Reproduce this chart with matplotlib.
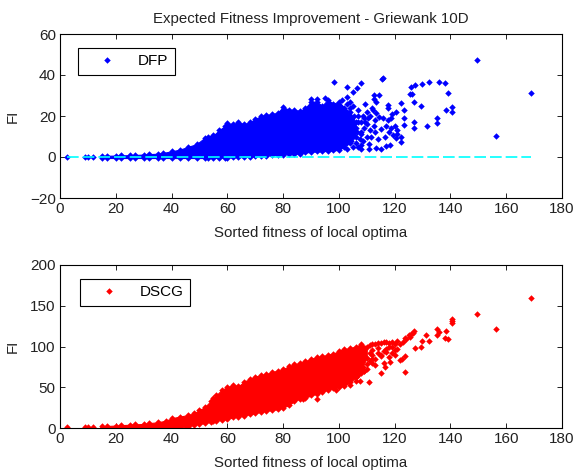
#!/usr/bin/env python
# -*- coding: utf-8 -*-
import matplotlib
matplotlib.use('Agg')
import matplotlib.pyplot as plt

plt.rcParams['font.family'] = ['Liberation Sans', 'DejaVu Sans']

## values
xTicks = [0, 20, 40, 60, 80, 100, 120, 140, 160, 180]
yTicksTop = [-20, 0, 20, 40, 60]
yTicksBot = [0, 50, 100, 150, 200]

# DFP, dense part of the cloud: lower and upper edge per column
dfpBandX = [15, 17, 20, 22, 25, 27, 30, 32, 35, 37, 40, 43, 46, 49, 52, 53, 55, 57, 59, 60, 62, 64, 66, 68, 70, 72, 74, 76, 78, 80, 82, 84, 86, 88, 90, 92, 94, 96, 98, 100, 102, 104, 106]
dfpBandLo = [-0.5, -0.5, -0.5, -0.5, -0.5, -0.5, -0.5, -0.5, -0.5, -0.5, -0.5, -0.5, -0.5, -0.5, -0.5, -0.5, -0.4, -0.4, -0.3, -0.3, -0.2, -0.1, 0, 0.2, 0.3, 0.5, 0.7, 0.9, 1, 1.2, 1.4, 1.5, 1.7, 2.2, 2.5, 2.7, 2.8, 3, 3.2, 3.5, 5, 7, 10]
dfpBandHi = [0.5, 0.6, 0.7, 0.8, 0.9, 1, 1.2, 1.4, 1.6, 2, 2.8, 3.6, 5, 6.3, 9.5, 10, 10.5, 13, 15, 16.5, 16, 17, 16, 17, 18.5, 20, 20.5, 21, 21.5, 24.5, 23, 23, 22.5, 24, 27, 27, 25, 28, 26, 27, 24, 22, 17]

# DFP, single points outside the dense part
dfpX = [2.5, 9, 10, 12, 149.6, 169, 156.2, 140.5, 140.5, 138.5, 139.3, 138, 135.9, 132.2, 129.7, 127.2, 126, 125.4, 126.2,
        126.8, 129.3, 122.2, 123.5, 135, 135, 131.5, 126.9, 126.9, 123.5, 123.5, 115.8, 115.4, 108, 106.6, 104.9, 102.8,
        102.8, 98.4, 95, 92, 90, 117.6, 117.6, 114.3, 112.5, 112.5, 113.4, 116.9, 115, 113.2, 110.8, 110.8, 107.8, 112.1, 113.3,
        114.5, 115.7, 117.6, 118.8, 120.6, 122.2, 122.2, 120.6, 119.4, 118.6, 120, 110, 111, 113, 115, 117, 109, 108.5,
        111.5, 114, 116.5, 118, 119, 121, 110, 112, 109.5, 113, 108, 111, 107, 110, 112.5, 118.5, 121,
        107, 108, 109, 107.5, 106.5, 105, 104, 103, 101,
        103, 105, 104.5, 106, 107, 108, 105.5, 107, 108.5, 106, 104, 102.5, 109.5, 110.5, 108]
dfpY = [0, 0, 0, 0, 47.3, 31, 10.4, 24.2, 21.8, 22.9, 31, 36.1, 36.6, 36.6, 35.4, 35, 34.1, 30.9, 30.9,
        27, 24.7, 26.5, 22.9, 18.9, 16.4, 15.1, 17.2, 14, 18.9, 15.6, 38.5, 38, 36.1, 33.8, 31.8, 34.3,
        29.4, 36.6, 29, 28.5, 28.5, 25.4, 23.8, 30.3, 30.3, 28.2, 27, 5.4, 4.1, 4.6, 4.1, 6.5, 4.1, 22.9, 21.3,
        19.7, 18.9, 18, 18.9, 22.1, 7.5, 9.9, 9.1, 10.7, 14, 15.1, 16, 13, 12, 13.5, 15, 19, 8,
        10, 9, 10, 12, 21, 13, 22, 24, 26, 18, 12, 20, 17, 10, 15, 6, 11,
        23, 17, 14, 9, 12, 25, 27, 26, 28,
        4, 5, 8, 7, 5, 6, 20, 20, 20, 14, 24, 22, 17, 19, 11]

# DSCG, dense part of the cloud
dscBandX = [15, 17, 20, 22, 25, 27, 30, 32, 35, 38, 40, 43, 46, 48, 50, 52, 54, 55, 56, 58, 60, 62, 64, 66, 68, 70, 72, 74, 76, 78, 80, 82, 84, 86, 88, 90, 92, 94, 96, 98, 100, 102, 104, 106, 108, 110]
dscBandLo = [0.5, 0.5, 0.5, 0.5, 0.5, 0.5, 0.5, 0.5, 0.5, 0.5, 0.5, 0.5, 1.5, 4, 5, 6, 7.5, 8, 9, 10, 11, 13, 14, 15, 17, 18, 20, 21, 22, 23, 25, 28, 33, 36, 37, 40, 42, 44, 47, 49, 50, 52, 56, 62, 72, 86]
dscBandHi = [2, 2.5, 3, 3.5, 4, 4.5, 5, 6, 7, 9, 12, 14, 16, 18, 22, 26, 33, 37, 40, 47, 50, 53, 51, 57, 60, 63, 65, 66, 69, 70, 72, 76, 78, 80, 82, 85, 87, 88, 90, 91, 95, 97, 98, 100, 103, 100]

# DSCG, single points
dscX = [2.5, 9, 10, 12, 169, 149.6, 156.2, 140.5, 140.5, 140.5, 138.5, 138, 139.3, 135, 135.9, 135, 131.3, 132.2, 129.7, 129.3,
        127.2, 126.9, 126.4, 125.9, 125.5, 123.7, 123.7, 115, 110.8, 107.4, 123.6, 122.8, 122, 120, 118.3, 116.7, 116, 113,
        121, 119, 122, 117, 115, 112, 109, 125, 124, 123, 118, 106, 104, 99, 97, 92, 87,
        111, 112, 113, 114, 115, 116, 117, 118, 119, 120, 111, 112, 114, 116, 118, 113, 115, 117, 120, 112, 114, 119, 121,
        106, 107, 108, 109, 110, 111, 108.5, 110, 112]
dscY = [1, 1, 1, 1, 159, 139.5, 121, 134, 131.6, 128.8, 119.3, 110.7, 108.6, 121, 118, 114, 113.6, 106.6, 106.6, 99.2,
        97.6, 119, 117, 115, 112, 110.7, 69, 67.4, 56, 57.6, 88, 85, 83, 89, 81, 75, 80, 77,
        107, 100, 103, 93, 88, 85, 70, 114, 109, 106, 87, 62, 53, 47, 52, 36, 35,
        102, 103, 103, 104, 104, 105, 105, 104, 105, 103, 92, 96, 98, 95, 100, 85, 90, 97, 96, 80, 92, 92, 97,
        58, 65, 68, 70, 78, 82, 75, 72, 90]

zeroX = [2.5, 169]
zeroY = [0, 0]


def setup(ax, yTicks, yLim):
    ax.set_xlim(0, 180)
    ax.set_ylim(yLim)
    ax.set_xticks(xTicks)
    ax.set_yticks(yTicks)
    ax.tick_params(direction='in', length=3.5, width=0.7, top=True, right=True,
                   labelsize=11, colors='#222222', pad=3)
    ax.set_xlabel('Sorted fitness of local optima', fontsize=10.8, color='#222222', labelpad=7)
    ax.set_ylabel('FI', fontsize=10.8, color='#222222')
    ax.yaxis.set_label_coords(-0.08, 0.5)
    for s in ax.spines.values():
        s.set_linewidth(0.8)


def cloud(ax, bandX, bandLo, bandHi, ptX, ptY, color, name, anchor):
    ax.fill_between(bandX, bandLo, bandHi, color=color, lw=0.8, zorder=2)
    # edge markers make the outline of the cloud rough like the single points
    ax.plot(bandX, bandLo, 'D', color=color, ms=3.3, mew=0, zorder=2)
    ax.plot(bandX, bandHi, 'D', color=color, ms=3.3, mew=0, zorder=2)
    ax.plot(ptX, ptY, 'D', color=color, ms=3.3, mew=0, zorder=2, label=name)
    leg = ax.legend(loc='upper left', bbox_to_anchor=anchor, fancybox=False, framealpha=1,
                    edgecolor='black', fontsize=11, numpoints=1, handlelength=2.9,
                    handletextpad=0.6, borderpad=0.42, borderaxespad=0)
    leg.get_frame().set_linewidth(0.8)
    leg.set_zorder(5)


fig = plt.figure(figsize=(5.75, 4.70), dpi=100)
H = 470.0
W = 575.0
ax1 = fig.add_axes([60 / W, 1 - 198 / H, 502 / W, 164 / H])
ax2 = fig.add_axes([60 / W, 1 - 428 / H, 502 / W, 163 / H])

#%% top panel
cloud(ax1, dfpBandX, dfpBandLo, dfpBandHi, dfpX, dfpY, '#0000ff', 'DFP', (18 / 502, 1 - 14 / 164))
ax1.plot(zeroX, zeroY, color='#00ffff', lw=1.2, dashes=(7, 2.4), zorder=3)
setup(ax1, yTicksTop, (-20, 60))
ax1.set_title('Expected Fitness Improvement - Griewank 10D', fontsize=10.8, color='#222222', pad=8)

#%% bottom panel
cloud(ax2, dscBandX, dscBandLo, dscBandHi, dscX, dscY, '#ff0000', 'DSCG', (20 / 502, 1 - 14 / 163))
setup(ax2, yTicksBot, (0, 200))

fig.savefig('out.png', dpi=100)
